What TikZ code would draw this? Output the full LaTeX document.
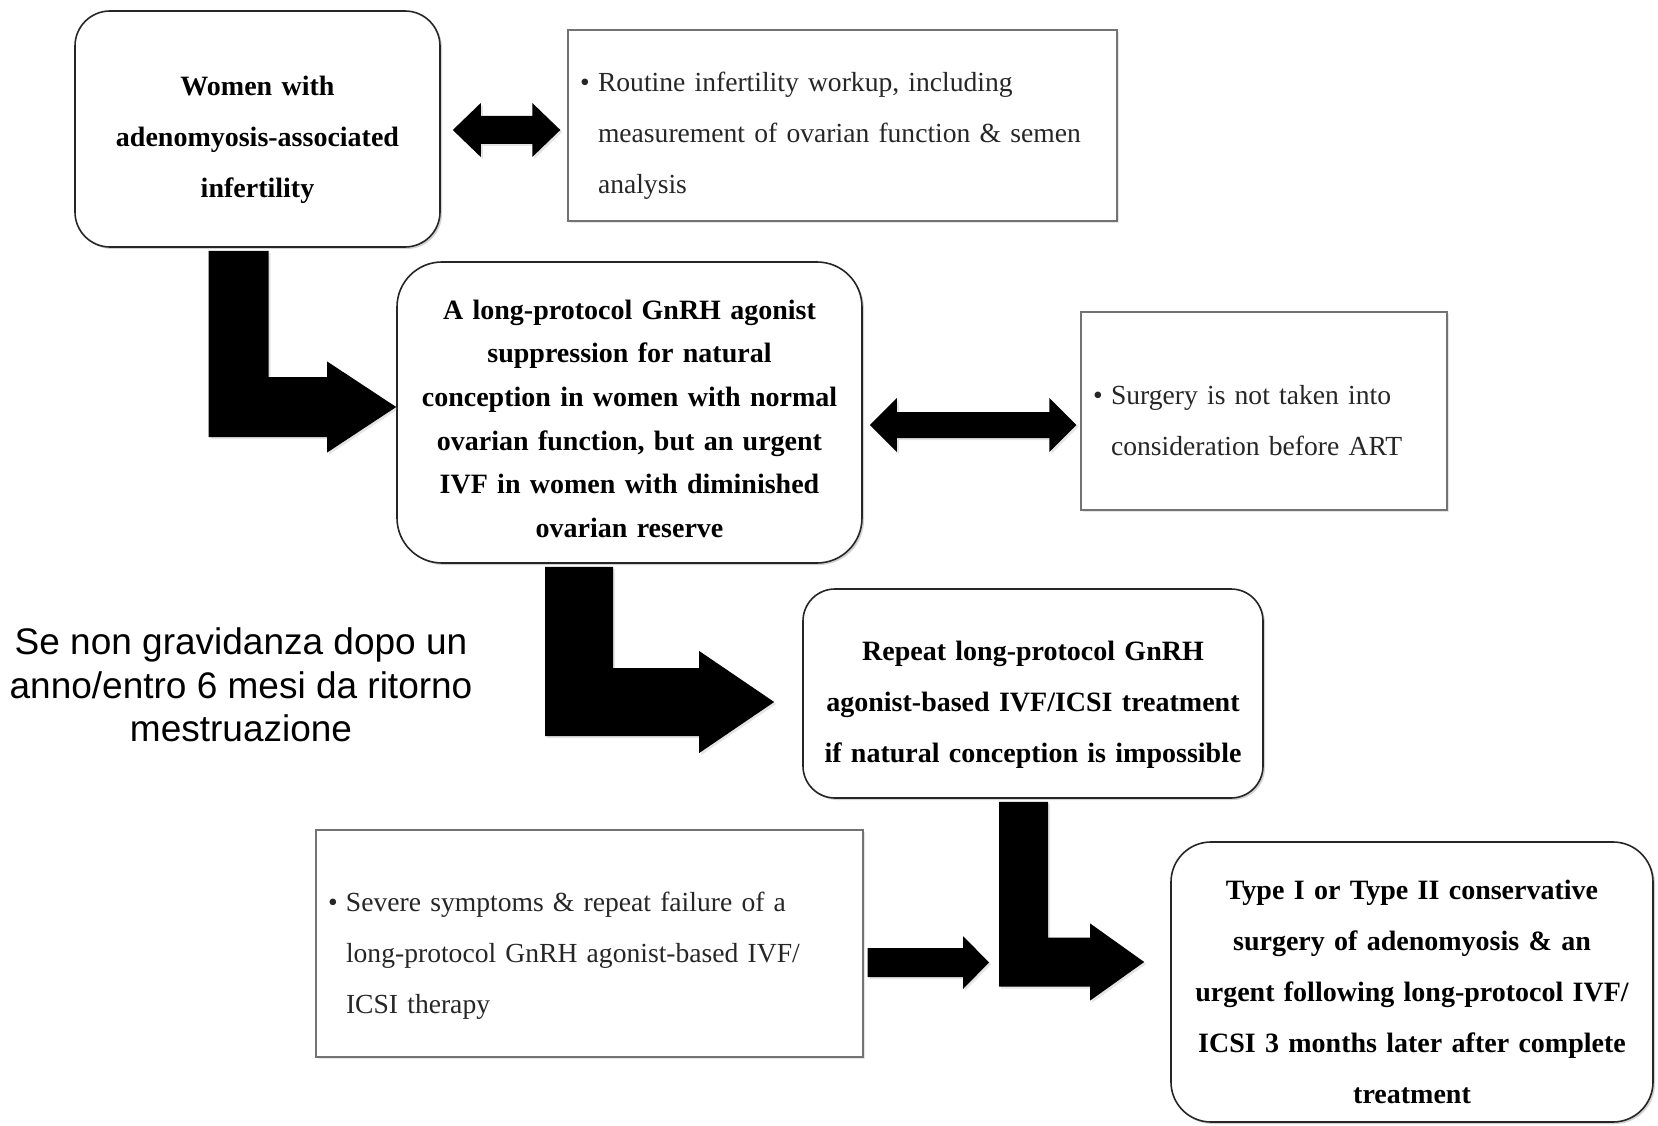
\documentclass[tikz,border=0pt]{standalone}
\usepackage{fontspec}
\setmainfont{Liberation Serif}
\newfontfamily\arialf{Liberation Sans}
\usetikzlibrary{calc,shadows}
\tikzset{
  rbox/.style={draw=black!85, line width=1.6pt, rounded corners=#1, fill=white,
    inner sep=0pt, align=center, font=\bfseries\fontsize{28}{51}\selectfont,
    drop shadow={shadow xshift=2pt,shadow yshift=-2pt,opacity=0.35}},
  bbox/.style={draw=black!55, line width=1.4pt, fill=white, inner xsep=12pt,
    inner ysep=0pt, align=left, text=black!85, font=\fontsize{27.6}{51}\selectfont,
    drop shadow={shadow xshift=2pt,shadow yshift=-2pt,opacity=0.2}},
  bigarrow/.style={fill=black,
    drop shadow={shadow xshift=2pt,shadow yshift=-2pt,opacity=0.2}},
  notetext/.style={font=\arialf\fontsize{37}{43.5}\selectfont, align=center, inner sep=0pt}
}
% L-shaped block arrow: from node (south) down, then right to node (west)
% #3 bar centre x, #4 half thickness, #5 head length, #6 head half width,
% #7 gap before target, #8 tip y offset (down positive)
\newcommand\Larrow[8]{%
  \fill[bigarrow] let \p1=(#1.south), \p2=(#2.west),
    \p3=({#3pt},{\y1-3pt}), \p4=({\x2-#7pt},{\y2-(#8pt)}) in
    ({\x3-#4pt},\y3) -- ({\x3+#4pt},\y3) -- ({\x3+#4pt},{\y4+#4pt}) --
    ({\x4-#5pt},{\y4+#4pt}) -- ({\x4-#5pt},{\y4+#6pt}) -- (\x4,\y4) --
    ({\x4-#5pt},{\y4-#6pt}) -- ({\x4-#5pt},{\y4-#4pt}) --
    ({\x3-#4pt},{\y4-#4pt}) -- cycle;}
% double block arrow between #1.east and #2.west at height #3
\newcommand\DArrow[8]{%
  \fill[bigarrow] let \p1=(#1.east), \p2=(#2.west),
    \p3=({\x1+#4pt},{-#3pt}), \p4=({\x2-#5pt},{-#3pt}) in
    (\x3,\y3) -- ({\x3+#7pt},{\y3+#8pt}) -- ({\x3+#7pt},{\y3+#6pt}) --
    ({\x4-#7pt},{\y4+#6pt}) -- ({\x4-#7pt},{\y4+#8pt}) -- (\x4,\y4) --
    ({\x4-#7pt},{\y4-#8pt}) -- ({\x4-#7pt},{\y4-#6pt}) --
    ({\x3+#7pt},{\y3-#6pt}) -- ({\x3+#7pt},{\y3-#8pt}) -- cycle;}
% single block arrow from #1.east to coordinate #2 at height #3
\newcommand\HArrow[7]{%
  \fill[bigarrow] let \p1=(#1.east), \p2=(#2),
    \p3=({\x1+#4pt},{-#3pt}), \p4=(\x2,{-#3pt}) in
    (\x3,{\y3+#5pt}) -- ({\x4-#6pt},{\y4+#5pt}) -- ({\x4-#6pt},{\y4+#7pt}) --
    (\x4,\y4) -- ({\x4-#6pt},{\y4-#7pt}) -- ({\x4-#6pt},{\y4-#5pt}) --
    (\x3,{\y3-#5pt}) -- cycle;}
\begin{document}
\begin{tikzpicture}[x=1pt,y=-1pt]
\fill[white] (0,0) rectangle (1658,1126);
\useasboundingbox (0,0) rectangle (1658,1126);

\node[rbox=35pt, minimum width=365pt, minimum height=236pt, text width=345pt] (b1) at (257.5,129)
  {\rule{0pt}{42pt}Women with\\adenomyosis-associated\\infertility};

\node[bbox, minimum width=549pt, minimum height=191pt, text width=525pt] (b2) at (842.5,125.5)
  {\rule{0pt}{40pt}\makebox[18pt][l]{\textbullet}Routine infertility workup, including\\
   \hspace*{18pt}measurement of ovarian function \& semen\\
   \hspace*{18pt}analysis};

\node[rbox=45pt, font=\bfseries\fontsize{28}{43.6}\selectfont, minimum width=465pt, minimum height=301pt, text width=445pt] (b3) at (629.5,412.5)
  {\rule{0pt}{32pt}A long-protocol GnRH agonist\\suppression for natural\\conception in women with normal\\ovarian function, but an urgent\\IVF in women with diminished\\ovarian reserve};

\node[bbox, minimum width=366pt, minimum height=198pt, text width=342pt] (b4) at (1264,411)
  {\rule{0pt}{38pt}\makebox[18pt][l]{\textbullet}Surgery is not taken into\\
   \hspace*{18pt}consideration before ART};

\node[rbox=32pt, minimum width=460pt, minimum height=209pt, text width=440pt] (b5) at (1033,693.5)
  {\rule{0pt}{42pt}Repeat long-protocol GnRH\\agonist-based IVF/ICSI treatment\\if natural conception is impossible};

\node[bbox, minimum width=547pt, minimum height=227pt, text width=523pt] (b6) at (589.5,943.5)
  {\rule{0pt}{44pt}\makebox[18pt][l]{\textbullet}Severe symptoms \& repeat failure of a\\
   \hspace*{18pt}long-protocol GnRH agonist-based IVF/\\
   \hspace*{18pt}ICSI therapy};

\node[rbox=40pt, minimum width=482pt, minimum height=280pt, text width=465pt] (b7) at (1412,982)
  {\rule{0pt}{39pt}Type I or Type II conservative\\surgery of adenomyosis \& an\\urgent following long-protocol IVF/\\ICSI 3 months later after complete\\treatment};

\node[notetext] (note) at (241,685)
  {Se non gravidanza dopo un\\anno/entro 6 mesi da ritorno\\mestruazione};

\Larrow{b1}{b3}{238.5}{30}{69}{45.5}{0}{-5.5}
\Larrow{b3}{b5}{579}{34}{75}{51}{28}{8.5}
\Larrow{b5}{b7}{1023.5}{24.5}{54}{38.5}{26}{-20}
\DArrow{b1}{b2}{130}{12}{7}{14}{28}{27}
\DArrow{b3}{b4}{425}{7}{4}{13}{27}{27}
\coordinate (m) at (989,962.5);
\HArrow{b6}{m}{962.5}{4}{14.5}{26}{26.5}
\end{tikzpicture}
\end{document}
